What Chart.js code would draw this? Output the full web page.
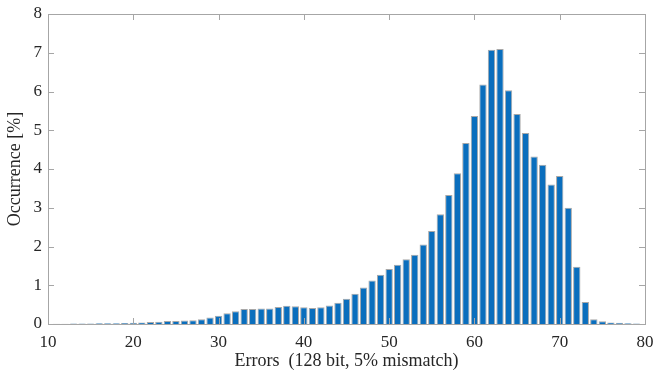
<!DOCTYPE html>
<html>
<head>
<meta charset="utf-8">
<script src="https://cdn.jsdelivr.net/npm/chart.js@4/dist/chart.umd.min.js"></script>
<style>
  html, body { margin: 0; padding: 0; background: #fff; }
  #wrap { width: 654px; height: 374px; }
</style>
</head>
<body>
<div id="wrap"><canvas id="hist"></canvas></div>
<script>
// error counts (bins) and occurrence in percent
var errors = [11,12,13,14,15,16,17,18,19,20,21,22,23,24,25,26,27,28,29,30,
  31,32,33,34,35,36,37,38,39,40,41,42,43,44,45,46,47,48,49,50,
  51,52,53,54,55,56,57,58,59,60,61,62,63,64,65,66,67,68,69,70,
  71,72,73,74,75,76,77,78,79];
var occurrence = [0.005,0.005,0.01,0.015,0.015,0.02,0.02,0.02,0.025,0.03,0.04,0.05,0.06,0.08,0.08,0.09,0.10,0.12,0.17,0.21,
  0.28,0.33,0.39,0.39,0.40,0.40,0.44,0.47,0.46,0.43,0.41,0.43,0.48,0.55,0.65,0.78,0.94,1.12,1.27,1.42,
  1.53,1.67,1.79,2.05,2.40,2.83,3.33,3.89,4.67,5.37,6.18,7.08,7.10,6.03,5.42,4.93,4.32,4.11,3.60,3.82,
  3.00,1.48,0.57,0.12,0.07,0.04,0.03,0.02,0.01];
var xTicks = [10,20,30,40,50,60,70,80];
var yTicks = [0,1,2,3,4,5,6,7,8];

var points = [];
for (let i = 0; i < errors.length; i++) {
  points.push({x: errors[i], y: occurrence[i]});
}

// MATLAB style box with inward tick marks
var boxPlugin = {
  id: 'box',
  afterDatasetsDraw: function(chart) {
    var ctx = chart.ctx;
    var a = chart.chartArea;
    var xs = chart.scales.x, ys = chart.scales.y;
    ctx.save();
    ctx.strokeStyle = '#a6a6a6';
    ctx.lineWidth = 1;
    ctx.strokeRect(Math.round(a.left) + 0.5, Math.round(a.top) + 0.5,
      Math.round(a.right - a.left), Math.round(a.bottom - a.top));
    ctx.beginPath();
    for (var t of xTicks) {
      var px = Math.round(xs.getPixelForValue(t)) + 0.5;
      ctx.moveTo(px, a.bottom); ctx.lineTo(px, a.bottom - 6);
      ctx.moveTo(px, a.top); ctx.lineTo(px, a.top + 6);
    }
    for (var t of yTicks) {
      var py = Math.round(ys.getPixelForValue(t)) + 0.5;
      ctx.moveTo(a.left, py); ctx.lineTo(a.left + 6, py);
      ctx.moveTo(a.right, py); ctx.lineTo(a.right - 6, py);
    }
    ctx.stroke();
    ctx.restore();
  }
};

new Chart(document.getElementById('hist'), {
  type: 'bar',
  data: {
    datasets: [{
      label: 'Occurrence',
      data: points,
      backgroundColor: '#0a6ebd',
      borderColor: '#a8a8a8',
      borderWidth: 1,
      barPercentage: 0.86,
      categoryPercentage: 1
    }]
  },
  options: {
    responsive: true,
    maintainAspectRatio: false,
    animation: false,
    layout: { padding: { top: 14, right: 9, left: 0, bottom: 0 } },
    plugins: { legend: { display: false }, tooltip: { enabled: false } },
    scales: {
      x: {
        type: 'linear',
        offset: false,
        min: 10, max: 80,
        grid: { display: false, offset: false, drawTicks: false, tickLength: 0 },
        border: { display: false },
        afterBuildTicks: function(s) { s.ticks = xTicks.map(v => ({value: v})); },
        afterFit: function(s) { s.height = 50; s.paddingLeft = 0; s.paddingRight = 0; },
        ticks: {
          color: '#262626',
          padding: 8,
          maxRotation: 0,
          font: { family: 'Liberation Serif', size: 17 }
        },
        title: {
          display: true,
          text: 'Errors  (128 bit, 5% mismatch)',
          color: '#262626',
          padding: { top: 0, bottom: 2 },
          font: { family: 'Liberation Serif', size: 18 }
        }
      },
      y: {
        min: 0, max: 8,
        grid: { display: false, drawTicks: false, tickLength: 0 },
        border: { display: false },
        afterBuildTicks: function(s) { s.ticks = yTicks.map(v => ({value: v})); },
        afterFit: function(s) { s.width = 48; s.paddingTop = 0; s.paddingBottom = 0; },
        ticks: {
          color: '#262626',
          padding: 6,
          font: { family: 'Liberation Serif', size: 17 }
        },
        title: {
          display: true,
          text: 'Occurrence [%]',
          color: '#262626',
          padding: { top: 4, bottom: 0 },
          font: { family: 'Liberation Serif', size: 18 }
        }
      }
    }
  },
  plugins: [boxPlugin]
});
</script>
</body>
</html>
